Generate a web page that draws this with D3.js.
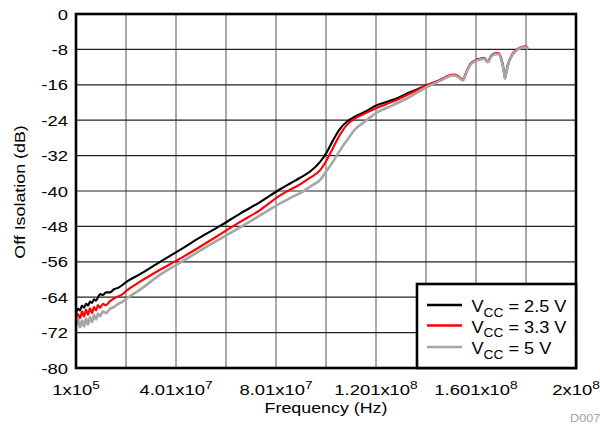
<!DOCTYPE html>
<html><head><meta charset="utf-8">
<script src="https://cdn.jsdelivr.net/npm/d3@7"></script>
<style>body{margin:0;background:#fff}svg{display:block}svg text,svg tspan{font-family:"Liberation Sans",Arial,Helvetica,sans-serif}</style>
</head><body><svg id="c" width="600" height="425"></svg>
<script>
// Frequency in MHz
const freqMHz = [0.1,0.9,1.7,2.5,3.3,4.1,4.9,5.7,6.5,7.3,8.1,8.9,9.7,10.9,12.1,13.7,15.3,16.9,18.5,20.1,25.7,33.7,41.7,49.7,57.7,65.7,73.7,81.7,85.7,89.7,93.7,97.7,100.1,102.9,105.7,108.5,111.6,115.6,120.0,126.8,133.6,140.4,145.6,150.8,152.8,154.8,156.0,157.6,160.0,161.6,163.2,164.8,166.0,167.6,169.2,170.4,171.2,171.6,172.0,172.8,174.4,176.4,178.4,180.0,180.8];
const vcc25 = [-67.6,-66.6,-67.0,-65.9,-66.4,-65.5,-65.9,-65.0,-65.3,-64.5,-64.8,-64.0,-63.3,-63.5,-62.9,-62.9,-62.2,-61.9,-61.3,-60.6,-58.8,-56.0,-53.3,-50.5,-47.9,-45.1,-42.5,-39.6,-38.3,-37.0,-35.6,-33.4,-31.5,-28.5,-25.9,-24.3,-23.2,-22.1,-20.7,-19.4,-17.7,-16.1,-15.0,-13.8,-14.1,-14.9,-13.4,-11.5,-10.5,-10.2,-10.0,-10.8,-9.6,-9.0,-9.0,-10.8,-13.0,-14.5,-13.5,-11.5,-9.3,-8.1,-7.5,-7.4,-7.9];
const vcc33 = [-69.0,-67.8,-68.8,-67.2,-68.4,-66.8,-68.0,-66.5,-67.6,-66.2,-67.0,-65.8,-66.4,-65.5,-65.8,-64.9,-64.3,-63.8,-63.4,-62.6,-60.5,-57.8,-55.3,-52.6,-49.8,-47.0,-44.3,-41.0,-39.7,-38.5,-37.0,-35.3,-33.2,-30.2,-27.2,-25.0,-23.6,-22.5,-21.3,-19.8,-18.0,-16.1,-14.9,-13.7,-14.0,-14.8,-13.3,-11.4,-10.4,-10.1,-9.9,-10.7,-9.5,-8.9,-8.9,-10.7,-12.9,-14.4,-13.4,-11.4,-9.2,-8.0,-7.4,-7.3,-7.9];
const vcc50 = [-70.5,-69.0,-70.8,-69.3,-70.6,-68.8,-70.2,-68.5,-69.6,-68.0,-69.0,-67.7,-68.3,-67.2,-67.6,-66.6,-66.2,-65.5,-65.1,-64.4,-62.3,-58.9,-56.2,-53.5,-50.8,-48.2,-45.5,-42.8,-41.6,-40.5,-39.0,-37.5,-35.6,-33.3,-30.8,-28.5,-26.1,-24.3,-22.4,-20.6,-18.7,-16.5,-15.1,-13.9,-14.2,-15.0,-13.5,-11.6,-10.6,-10.3,-10.1,-10.9,-9.7,-9.1,-9.1,-10.9,-13.1,-14.6,-13.6,-11.6,-9.4,-8.2,-7.6,-7.5,-8.0];
const seriesNames = ["2.5 V","3.3 V","5 V"];
const seriesColors = ["#000000","#ff0000","#a6a6a6"];
const yTicks = [0,-8,-16,-24,-32,-40,-48,-56,-64,-72,-80];
const xTickMant = ["1","4.01","8.01","1.201","1.601","2"];
const xTickExp = ["5","7","7","8","8","8"];

const svg = d3.select("#c");
const L=76,R=576,T=14,B=368;
const SX=1.19;
const x = d3.scaleLinear().domain([1e5,2e8]).range([L,R]);
const y = d3.scaleLinear().domain([-80,0]).range([B,T]);

const gridX = d3.range(0,11).map(i=>1e5+i*(2e8-1e5)/10);
// grid
svg.append("g").selectAll("line").data(gridX).join("line")
  .attr("x1",d=>x(d)).attr("x2",d=>x(d)).attr("y1",T).attr("y2",B)
  .attr("stroke","#707070").attr("stroke-width",1.2);
svg.append("g").selectAll("line").data(yTicks).join("line")
  .attr("x1",L).attr("x2",R).attr("y1",d=>y(d)).attr("y2",d=>y(d))
  .attr("stroke","#222").attr("stroke-width",1.2);

// y tick labels
svg.append("g").selectAll("text").data(yTicks).join("text")
  .attr("transform",d=>`translate(${L-8},${y(d)}) scale(${SX},1)`)
  .attr("dy","0.36em").attr("text-anchor","end")
  .attr("font-size",15.5).attr("fill","#000").text(d=>d);

// x tick labels
const xl = svg.append("g").selectAll("text").data(xTickMant).join("text")
  .attr("transform",(d,i)=>`translate(${x(gridX[i*2])},395) scale(${SX},1)`)
  .attr("text-anchor","middle").attr("font-size",15.5).attr("fill","#000");
xl.append("tspan").text(d=>d+"x10");
xl.append("tspan").attr("dy",-6.5).attr("font-size",11.5).text((d,i)=>xTickExp[i]);

// lines
const series=[vcc25,vcc33,vcc50];
const line = d3.line().curve(d3.curveMonotoneX).x((d,i)=>x(freqMHz[i]*1e6)).y(d=>y(d));
[0,1,2].forEach(k=>{
  svg.append("path").datum(series[k]).attr("d",line).attr("fill","none")
    .attr("stroke",seriesColors[k]).attr("stroke-width",k===2?2.6:2.1).attr("stroke-linejoin","round");
});

// frame
svg.append("rect").attr("x",L).attr("y",T).attr("width",R-L).attr("height",B-T)
  .attr("fill","none").attr("stroke","#000").attr("stroke-width",2.6);

// axis titles
svg.append("text").attr("transform",`translate(326,413) scale(${SX},1)`).attr("text-anchor","middle")
  .attr("font-size",15).text("Frequency (Hz)");
svg.append("text").attr("transform",`translate(25,192) rotate(-90) scale(${SX},1)`).attr("text-anchor","middle")
  .attr("font-size",15).text("Off Isolation (dB)");
svg.append("text").attr("transform",`translate(570,422) scale(1.15,1)`).attr("text-anchor","start")
  .attr("font-size",11).attr("fill","#a0a0a0").text("D007");

// legend
const lg = svg.append("g");
lg.append("rect").attr("x",417).attr("y",284).attr("width",159).attr("height",84)
  .attr("fill","#fff").attr("stroke","#000").attr("stroke-width",2.6);
seriesNames.forEach((n,i)=>{
  const yy=[305,325.5,347][i];
  lg.append("line").attr("x1",427).attr("x2",462).attr("y1",yy).attr("y2",yy)
    .attr("stroke",seriesColors[i]).attr("stroke-width",2.6);
  const t=lg.append("text").attr("transform",`translate(471.5,${yy+7}) scale(1.1,1)`).attr("font-size",16.5);
  t.append("tspan").text("V");
  t.append("tspan").attr("dy",4.5).attr("font-size",12.5).text("CC");
  t.append("tspan").attr("dy",-4.5).text(" = "+n);
});
</script></body></html>
